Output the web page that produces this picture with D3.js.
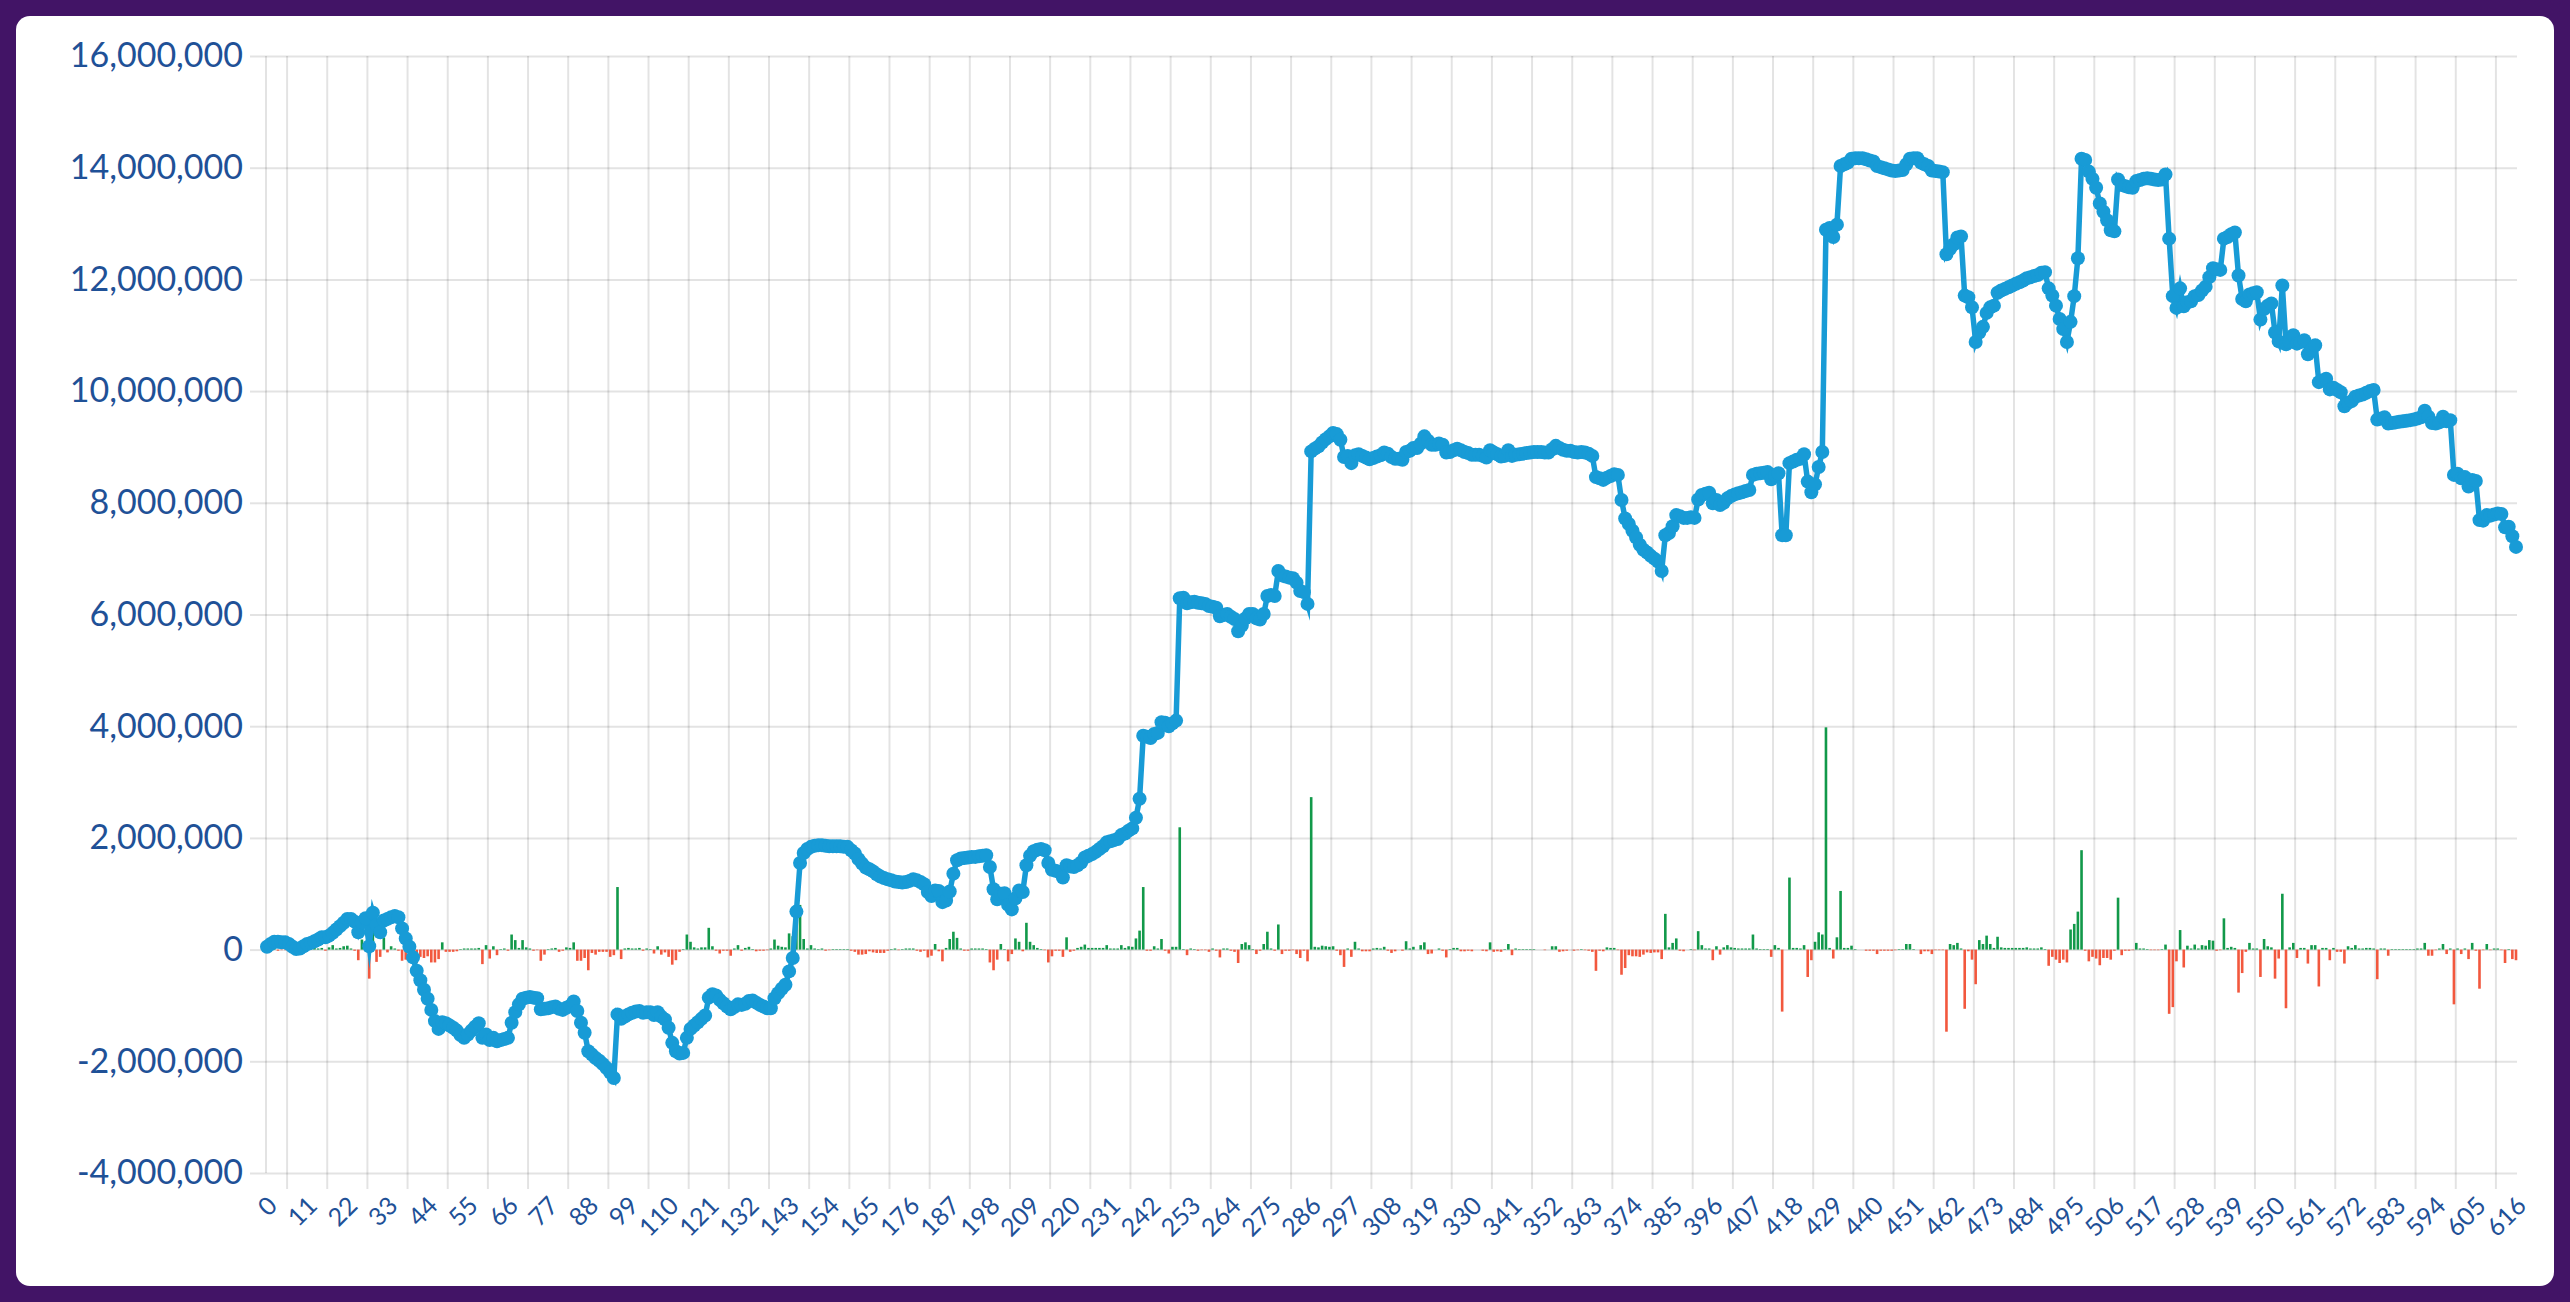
<!DOCTYPE html>
<html><head><meta charset="utf-8">
<script src="https://cdn.jsdelivr.net/npm/d3@7"></script>
<style>
html,body{margin:0;padding:0;background:#421466;overflow:hidden;}
svg{display:block;}
</style></head><body>
<svg id="chart" width="2570" height="1302"></svg>
<script>
const lineValues = [
50000,100000,140000,140000,130000,130000,100000,50000,10000,20000,
60000,100000,120000,150000,180000,220000,220000,250000,300000,360000,
420000,480000,550000,550000,500000,310000,490000,560000,60000,660000,
440000,310000,520000,550000,580000,600000,580000,380000,200000,50000,
-140000,-380000,-550000,-720000,-880000,-1080000,-1280000,-1420000,-1300000,-1320000,
-1360000,-1400000,-1450000,-1530000,-1580000,-1520000,-1450000,-1380000,-1320000,-1580000,
-1520000,-1620000,-1580000,-1640000,-1620000,-1600000,-1580000,-1310000,-1120000,-980000,
-880000,-860000,-850000,-860000,-870000,-1070000,-1060000,-1050000,-1030000,-1020000,
-1060000,-1080000,-1040000,-1010000,-930000,-1100000,-1310000,-1490000,-1820000,-1880000,
-1940000,-1990000,-2050000,-2120000,-2200000,-2300000,-1160000,-1240000,-1200000,-1160000,
-1130000,-1110000,-1100000,-1130000,-1120000,-1120000,-1170000,-1120000,-1200000,-1250000,
-1400000,-1670000,-1820000,-1860000,-1850000,-1580000,-1420000,-1360000,-1300000,-1240000,
-1180000,-860000,-800000,-820000,-900000,-960000,-1020000,-1070000,-1030000,-980000,
-990000,-970000,-920000,-910000,-950000,-990000,-1020000,-1050000,-1050000,-870000,
-780000,-700000,-630000,-390000,-150000,680000,1550000,1730000,1800000,1840000,
1860000,1870000,1870000,1860000,1850000,1850000,1850000,1850000,1840000,1840000,
1780000,1720000,1620000,1540000,1470000,1440000,1400000,1350000,1310000,1280000,
1260000,1240000,1220000,1210000,1200000,1210000,1230000,1260000,1240000,1210000,
1170000,1030000,960000,1060000,1050000,850000,880000,1040000,1360000,1600000,
1630000,1640000,1650000,1660000,1660000,1670000,1680000,1690000,1480000,1080000,
900000,1000000,1010000,800000,720000,920000,1060000,1030000,1510000,1680000,
1760000,1790000,1800000,1780000,1550000,1430000,1410000,1390000,1290000,1510000,
1490000,1480000,1510000,1560000,1650000,1680000,1710000,1750000,1800000,1850000,
1920000,1940000,1960000,1980000,2050000,2080000,2130000,2170000,2360000,2700000,
3830000,3810000,3790000,3860000,3880000,4070000,4060000,4000000,4050000,4100000,
6290000,6300000,6200000,6220000,6230000,6210000,6200000,6190000,6150000,6140000,
6120000,5970000,5990000,6010000,5960000,5920000,5700000,5800000,5930000,6010000,
6010000,5930000,5910000,6010000,6330000,6350000,6330000,6780000,6700000,6680000,
6660000,6650000,6570000,6420000,6400000,6190000,8920000,8970000,9010000,9080000,
9140000,9190000,9250000,9230000,9130000,8820000,8840000,8710000,8850000,8870000,
8840000,8810000,8780000,8800000,8830000,8850000,8900000,8880000,8820000,8790000,
8790000,8770000,8910000,8930000,8980000,8980000,9060000,9190000,9110000,9040000,
9040000,9060000,9040000,8900000,8910000,8940000,8970000,8940000,8910000,8890000,
8860000,8860000,8860000,8840000,8810000,8940000,8900000,8870000,8830000,8840000,
8940000,8840000,8860000,8870000,8880000,8890000,8900000,8910000,8910000,8910000,
8900000,8900000,8960000,9020000,8980000,8950000,8930000,8930000,8910000,8900000,
8910000,8900000,8880000,8840000,8460000,8440000,8410000,8450000,8480000,8510000,
8500000,8050000,7720000,7620000,7500000,7380000,7250000,7160000,7110000,7050000,
7000000,6950000,6780000,7420000,7460000,7580000,7780000,7760000,7730000,7730000,
7740000,7730000,8060000,8140000,8160000,8180000,7990000,8050000,7960000,8000000,
8080000,8120000,8150000,8170000,8190000,8210000,8230000,8500000,8520000,8530000,
8540000,8550000,8420000,8500000,8530000,7420000,7420000,8710000,8740000,8770000,
8790000,8870000,8380000,8190000,8330000,8640000,8910000,12890000,12920000,12760000,
12980000,14030000,14060000,14090000,14160000,14170000,14170000,14170000,14150000,14130000,
14110000,14030000,14010000,13990000,13970000,13950000,13940000,13950000,13960000,14060000,
14160000,14170000,14170000,14090000,14060000,14030000,13950000,13940000,13930000,13920000,
12450000,12550000,12630000,12750000,12770000,11710000,11680000,11500000,10880000,11050000,
11150000,11400000,11500000,11530000,11760000,11800000,11830000,11860000,11890000,11920000,
11950000,11980000,12020000,12040000,12060000,12080000,12120000,12130000,11840000,11710000,
11530000,11290000,11110000,10880000,11240000,11700000,12380000,14160000,14140000,13930000,
13800000,13640000,13360000,13210000,13060000,12880000,12860000,13790000,13690000,13670000,
13650000,13640000,13760000,13780000,13800000,13810000,13800000,13790000,13780000,13790000,
13880000,12730000,11700000,11490000,11840000,11520000,11590000,11610000,11700000,11720000,
11800000,11870000,12040000,12200000,12180000,12170000,12730000,12760000,12810000,12840000,
12070000,11650000,11610000,11730000,11750000,11770000,11280000,11470000,11530000,11570000,
11050000,10890000,11890000,10840000,10880000,11000000,10850000,10880000,10910000,10660000,
10740000,10820000,10160000,10190000,10220000,10030000,10060000,10020000,9980000,9730000,
9790000,9820000,9900000,9920000,9940000,9970000,10000000,10020000,9490000,9510000,
9530000,9420000,9430000,9440000,9450000,9460000,9470000,9480000,9490000,9510000,
9530000,9650000,9540000,9430000,9420000,9440000,9540000,9460000,9480000,8500000,
8520000,8440000,8460000,8290000,8410000,8390000,7690000,7680000,7780000,7770000,
7790000,7810000,7800000,7560000,7570000,7400000,7210000
];

const barValues = [
50000,50000,40000,-20000,-10000,-10000,-30000,-50000,-40000,10000,
40000,40000,20000,30000,20000,30000,-20000,40000,80000,20000,
30000,60000,70000,20000,-20000,-190000,180000,50000,-520000,600000,
-220000,-130000,210000,-50000,60000,20000,-20000,-200000,-180000,-150000,
-190000,-240000,-130000,-150000,-120000,-230000,-230000,-170000,130000,-40000,
-40000,-40000,-30000,10000,20000,20000,20000,20000,30000,-260000,
80000,-160000,60000,-100000,10000,20000,-20000,270000,170000,30000,
170000,40000,20000,-20000,-10000,-200000,-90000,10000,20000,30000,
-40000,-20000,40000,30000,130000,-200000,-200000,-150000,-370000,-60000,
-90000,-40000,-40000,-40000,-130000,-100000,1120000,-170000,20000,30000,
20000,20000,30000,-20000,20000,10000,-70000,60000,-90000,-50000,
-130000,-270000,-190000,-40000,10000,270000,140000,40000,20000,40000,
40000,390000,60000,-20000,-70000,-20000,-20000,-110000,20000,80000,
-20000,30000,50000,10000,-30000,-20000,-20000,-10000,20000,180000,
70000,50000,40000,290000,240000,830000,800000,190000,20000,80000,
20000,10000,20000,-20000,-10000,10000,10000,10000,10000,10000,
-20000,-40000,-90000,-90000,-80000,-30000,-50000,-60000,-60000,-60000,
-20000,10000,20000,-10000,10000,20000,20000,20000,-20000,-40000,
-20000,-140000,-110000,100000,-30000,-210000,30000,190000,320000,210000,
20000,-20000,-20000,20000,20000,20000,20000,10000,-230000,-370000,
-180000,100000,10000,-210000,-80000,200000,140000,-30000,480000,140000,
80000,30000,10000,-10000,-230000,-120000,-20000,-20000,-130000,220000,
-40000,-20000,30000,50000,90000,30000,30000,30000,30000,30000,
80000,20000,20000,20000,80000,30000,60000,50000,200000,340000,
1120000,-20000,-20000,60000,20000,190000,-20000,-70000,50000,50000,
2190000,10000,-100000,20000,10000,-20000,-10000,-10000,-40000,20000,
-20000,-140000,20000,20000,-20000,-40000,-240000,100000,130000,80000,
10000,-80000,-20000,100000,320000,20000,-20000,450000,-80000,-20000,
-20000,-10000,-80000,-150000,-20000,-210000,2730000,50000,40000,70000,
60000,50000,60000,-20000,-100000,-310000,20000,-130000,140000,20000,
-30000,-30000,-30000,20000,30000,20000,50000,-20000,-60000,-30000,
0,-20000,150000,20000,50000,0,80000,130000,-80000,-70000,
0,20000,-20000,-140000,10000,30000,30000,-30000,-30000,-20000,
-30000,0,0,-20000,-30000,130000,-40000,-30000,-40000,10000,
100000,-100000,20000,10000,10000,10000,10000,10000,0,0,
-10000,0,60000,60000,-40000,-30000,-20000,0,-20000,-10000,
10000,-10000,-20000,-40000,-380000,-20000,-30000,40000,30000,30000,
-10000,-450000,-330000,-100000,-120000,-120000,-130000,-90000,-50000,-60000,
-50000,-50000,-170000,640000,40000,120000,200000,-20000,-30000,0,
10000,-10000,330000,80000,20000,20000,-190000,60000,-90000,40000,
80000,40000,30000,20000,20000,20000,20000,270000,20000,10000,
10000,10000,-130000,80000,30000,-1110000,0,1290000,30000,30000,
20000,80000,-490000,-190000,140000,310000,270000,3980000,30000,-160000,
220000,1050000,30000,30000,70000,10000,0,0,-20000,-20000,
-20000,-80000,-20000,-20000,-20000,-20000,-10000,10000,10000,100000,
100000,10000,0,-80000,-30000,-30000,-80000,-10000,-10000,-10000,
-1470000,100000,80000,120000,20000,-1060000,-30000,-180000,-620000,170000,
100000,250000,100000,30000,230000,40000,30000,30000,30000,30000,
30000,30000,40000,20000,20000,20000,40000,10000,-290000,-130000,
-180000,-240000,-180000,-230000,360000,460000,680000,1780000,-20000,-210000,
-130000,-160000,-280000,-150000,-150000,-180000,-20000,930000,-100000,-20000,
-20000,-10000,120000,20000,20000,10000,-10000,-10000,-10000,10000,
90000,-1150000,-1030000,-210000,350000,-320000,70000,20000,90000,20000,
80000,70000,170000,160000,-20000,-10000,560000,30000,50000,30000,
-770000,-420000,-40000,120000,20000,20000,-490000,190000,60000,40000,
-520000,-160000,1000000,-1050000,40000,120000,-150000,30000,30000,-250000,
80000,80000,-660000,30000,30000,-190000,30000,-40000,-40000,-250000,
60000,30000,80000,20000,20000,30000,30000,20000,-530000,20000,
20000,-110000,10000,10000,10000,10000,10000,10000,10000,20000,
20000,120000,-110000,-110000,-10000,20000,100000,-80000,20000,-980000,
20000,-80000,20000,-170000,120000,-20000,-700000,-10000,100000,-10000,
20000,20000,-10000,-240000,10000,-170000,-190000
];

const xTickLabels = [0,11,22,33,44,55,66,77,88,99,110,121,132,143,154,165,176,187,198,209,220,231,242,253,264,275,286,297,308,319,330,341,352,363,374,385,396,407,418,429,440,451,462,473,484,495,506,517,528,539,550,561,572,583,594,605,616];
const yTicks = [-4000000,-2000000,0,2000000,4000000,6000000,8000000,10000000,12000000,14000000,16000000];

(function () {
  const W = 2570, H = 1302;
  const pL = 267, pR = 2516, pT = 56, pB = 1173;
  const FONT = "Lato, 'Noto Sans', sans-serif";
  const LABEL = "#1f5197";
  const GRID = "rgba(0,0,0,0.11)";
  const fmt = d3.formatLocale({decimal: '.', thousands: ',', grouping: [3], currency: ['', ''], minus: '-'}).format(',');

  const svg = d3.select('#chart');
  svg.append('rect').attr('width', W).attr('height', H).attr('fill', '#421466');
  svg.append('rect').attr('x', 16).attr('y', 16).attr('width', 2538).attr('height', 1270)
    .attr('rx', 14).attr('fill', '#ffffff');

  const categories = d3.range(lineValues.length);
  const x = d3.scaleLinear().domain([0, categories.length - 1]).range([pL, pR]);
  const y = d3.scaleLinear().domain([yTicks[0], yTicks[yTicks.length - 1]]).range([pB, pT]);

  // horizontal grid + y axis
  const yAxis = svg.append('g').attr('transform', `translate(${pL - 1},0)`)
    .call(d3.axisLeft(y).tickValues(yTicks).tickSizeInner(16).tickSizeOuter(0).tickPadding(7).tickFormat(fmt));
  yAxis.select('.domain').remove();
  yAxis.selectAll('.tick line').attr('stroke', GRID).attr('stroke-width', 2);
  yAxis.selectAll('.tick').append('line')
    .attr('x1', 0).attr('x2', pR - pL + 2).attr('y1', 0).attr('y2', 0)
    .attr('stroke', GRID).attr('stroke-width', 2);
  yAxis.selectAll('text').attr('fill', LABEL).style('font-family', FONT)
    .style('font-size', '34px').style('font-weight', 400);

  // vertical grid (offset between labels)
  const vGrid = svg.append('g');
  vGrid.append('line').attr('x1', pL - 1).attr('x2', pL - 1).attr('y1', pT).attr('y2', pB)
    .attr('stroke', GRID).attr('stroke-width', 2);
  vGrid.selectAll('line.v').data(xTickLabels.filter(t => t + 5.5 <= categories.length - 1))
    .enter().append('line').attr('class', 'v')
    .attr('x1', d => x(d + 5.5)).attr('x2', d => x(d + 5.5))
    .attr('y1', pT).attr('y2', pB + 16)
    .attr('stroke', GRID).attr('stroke-width', 2);

  // x axis labels
  const xAxis = svg.append('g').attr('transform', `translate(0,${pB})`)
    .call(d3.axisBottom(x).tickValues(xTickLabels).tickSize(0).tickFormat(d => String(d)));
  xAxis.select('.domain').remove();
  xAxis.selectAll('text')
    .attr('x', 0).attr('y', 0).attr('dy', '0.35em')
    .attr('transform', 'translate(5,28) rotate(-45)')
    .style('text-anchor', 'end')
    .attr('fill', LABEL).style('font-family', FONT).style('font-size', '25px').style('font-weight', 400);

  // bars
  const bw = 2.6;
  svg.append('g').selectAll('rect').data(barValues).enter().append('rect')
    .attr('x', (d, i) => x(i) - bw / 2)
    .attr('width', bw)
    .attr('y', d => y(Math.max(0, d)))
    .attr('height', d => Math.abs(y(d) - y(0)))
    .attr('fill', d => d >= 0 ? '#12994a' : '#f2583e');

  // line
  const line = d3.line().x((d, i) => x(i)).y(d => y(d));
  svg.append('path').datum(lineValues).attr('d', line)
    .attr('fill', 'none').attr('stroke', '#189bd6').attr('stroke-width', 5.5)
    .attr('stroke-linejoin', 'miter').attr('stroke-miterlimit', 10);
  svg.append('g').selectAll('circle').data(lineValues).enter().append('circle')
    .attr('cx', (d, i) => x(i)).attr('cy', d => y(d)).attr('r', 7)
    .attr('fill', '#189bd6');
})();
</script>
</body></html>
